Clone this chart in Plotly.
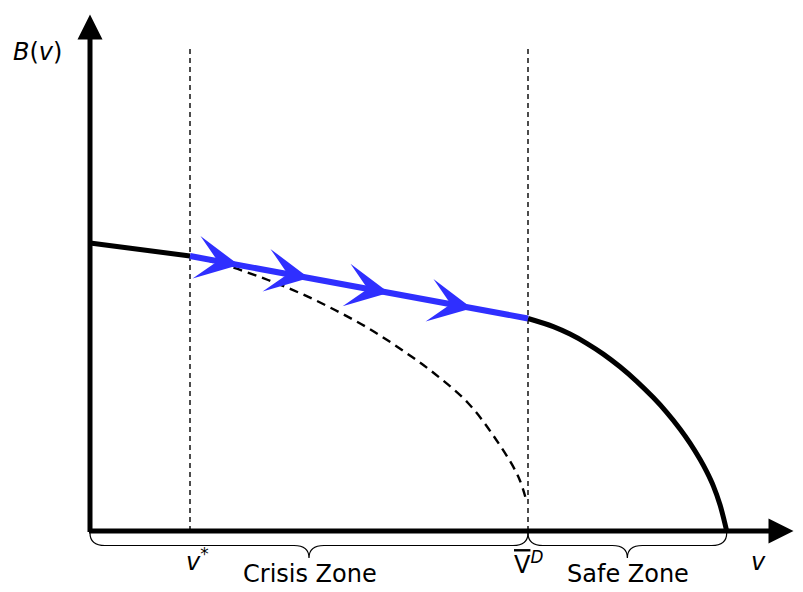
import numpy as np
import plotly.graph_objects as go

# Key thresholds on the v axis
v_star = 1.0      # v*
v_bar_d = 4.38    # V-bar^D
v_root = 6.367    # where B(v) reaches zero

# Flat black segment left of v*
left_v = [0.0, 1.0]
left_b = [2.88, 2.75]

# Blue path through the crisis zone
blue_v = [1.0, 4.38]
blue_b = [2.75, 2.125]

# Direction arrows on the blue path (tip positions in v)
arrow_v = [1.49, 2.19, 2.99, 3.82]

# Safe-zone branch of B(v)
safe_v = [4.38, 4.633, 4.80, 4.967, 5.133, 5.30, 5.467, 5.633,
          5.767, 5.90, 6.00, 6.10, 6.167, 6.233, 6.30, 6.367]
safe_b = [2.125, 2.044, 1.969, 1.877, 1.769, 1.642, 1.497, 1.334,
          1.187, 1.021, 0.879, 0.717, 0.593, 0.451, 0.262, 0.0]

# Dashed alternative branch
dash_v = [1.0, 1.38, 1.78, 2.12, 2.45, 2.78, 3.12, 3.45, 3.78, 4.05, 4.28, 4.37]
dash_b = [2.745, 2.65, 2.51, 2.37, 2.21, 2.03, 1.81, 1.57, 1.28, 0.93, 0.55, 0.28]

# Zones marked by braces under the axis
zones = [("Crisis Zone", 0.0, v_bar_d), ("Safe Zone", v_bar_d, v_root)]

BLUE = "#2f2fff"
FONT = "DejaVu Sans"
HEAD_SIZE = 1.2

fig = go.Figure()

# vertical guide lines at v* and V-bar^D
for xv in [v_star, v_bar_d]:
    fig.add_trace(go.Scatter(x=[xv, xv], y=[0, 4.86], mode="lines",
                             line=dict(color="black", width=1.4, dash="5px,4px"),
                             hoverinfo="skip"))

fig.add_trace(go.Scatter(x=dash_v, y=dash_b, mode="lines",
                         line=dict(color="black", width=2.4, dash="9px,6px",
                                   shape="spline", smoothing=1.0),
                         hoverinfo="skip"))
fig.add_trace(go.Scatter(x=left_v, y=left_b, mode="lines",
                         line=dict(color="black", width=5), hoverinfo="skip"))
fig.add_trace(go.Scatter(x=safe_v, y=safe_b, mode="lines",
                         line=dict(color="black", width=5, shape="spline", smoothing=1.0),
                         hoverinfo="skip"))
fig.add_trace(go.Scatter(x=blue_v, y=blue_b, mode="lines",
                         line=dict(color=BLUE, width=6), hoverinfo="skip"))

annotations = []

# arrowheads along the blue path
for av in arrow_v:
    tail = av - 0.25
    annotations.append(dict(
        x=av, y=float(np.interp(av, blue_v, blue_b)),
        ax=tail, ay=float(np.interp(tail, blue_v, blue_b)),
        xref="x", yref="y", axref="x", ayref="y", text="",
        showarrow=True, arrowhead=3, arrowsize=HEAD_SIZE, arrowwidth=6,
        arrowcolor=BLUE, standoff=0))

# axes with arrow tips
annotations.append(dict(x=7.035, y=0, ax=-0.025, ay=0, xref="x", yref="y",
                        axref="x", ayref="y", text="", showarrow=True,
                        arrowhead=2, arrowsize=1, arrowwidth=5, arrowcolor="black"))
annotations.append(dict(x=0, y=5.165, ax=0, ay=-0.025, xref="x", yref="y",
                        axref="x", ayref="y", text="", showarrow=True,
                        arrowhead=2, arrowsize=1, arrowwidth=5, arrowcolor="black"))


def brace_path(x0, x1, y0=-0.02, h=0.25, r=0.15):
    xm = (x0 + x1) / 2
    yh = y0 - h / 2
    return (f"M{x0},{y0} Q{x0},{yh} {x0 + r},{yh} L{xm - r},{yh} "
            f"Q{xm},{yh} {xm},{y0 - h} Q{xm},{yh} {xm + r},{yh} "
            f"L{x1 - r},{yh} Q{x1},{yh} {x1},{y0}")


shapes = []
for name, x0, x1 in zones:
    shapes.append(dict(type="path", path=brace_path(x0, x1), xref="x", yref="y",
                       line=dict(color="black", width=1.2)))
    annotations.append(dict(x=(x0 + x1) / 2 + 0.01, y=-0.43, text=name,
                            showarrow=False, xanchor="center", yanchor="middle",
                            font=dict(family=FONT, size=24, color="black")))

labels = [
    (-0.53, 4.79, "<i>B</i>(<i>v</i>)"),
    (v_star + 0.07, -0.29, "<i>v</i><sup>*</sup>"),
    (v_bar_d, -0.32,
     '<span style="text-decoration:overline">V</span><sup><i>D</i></sup>'),
    (6.68, -0.31, "<i>v</i>"),
]
for x, y, t in labels:
    annotations.append(dict(x=x, y=y, text=t, showarrow=False,
                            xanchor="center", yanchor="middle",
                            font=dict(family=FONT, size=24, color="black")))

fig.update_layout(
    width=803, height=592, autosize=False,
    margin=dict(l=0, r=0, t=0, b=0),
    paper_bgcolor="white", plot_bgcolor="white",
    showlegend=False,
    xaxis=dict(range=[-0.9, 7.13], visible=False, fixedrange=True),
    yaxis=dict(range=[-0.61, 5.31], visible=False, fixedrange=True),
    shapes=shapes, annotations=annotations,
)

fig.write_html("out.html")
